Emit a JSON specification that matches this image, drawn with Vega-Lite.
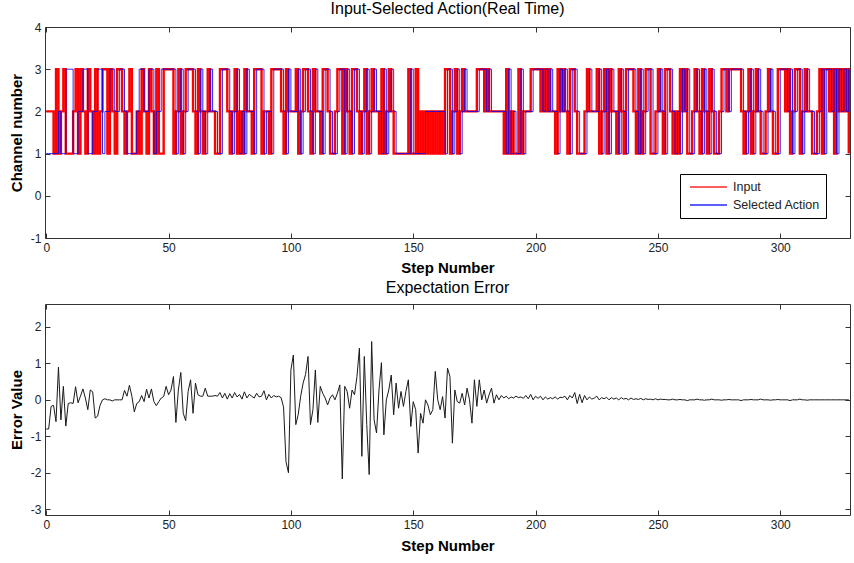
{
  "$schema": "https://vega.github.io/schema/vega-lite/v6.json",
  "autosize": {"type": "pad"},
  "padding": {"left": 8, "top": 0, "right": 1, "bottom": 3},
  "background": "white",
  "spacing": 66,
  "bounds": "flush",
  "config": {
    "font": "Liberation Sans",
    "view": {"stroke": "#333", "strokeWidth": 1},
    "axis": {"grid": false, "domain": false, "tickSize": -5, "tickColor": "#333", "labelFont": "Liberation Sans", "labelFontSize": 12, "labelColor": "#222", "labelPadding": 9, "labelExpr": "'' + datum.value", "titleFont": "Liberation Sans", "titleFontSize": 15, "titleFontWeight": "bold", "titleColor": "#000"},
    "title": {"font": "Liberation Sans", "fontSize": 16, "fontWeight": "normal", "color": "#000"}
  },
  "datasets": {
    "steps": [
{"step":0,"input":2,"action":1,"error":-0.8},
{"step":1,"input":2,"action":1,"error":-0.8},
{"step":2,"input":2,"action":1,"error":-0.18},
{"step":3,"input":1,"action":1,"error":-0.15},
{"step":4,"input":3,"action":1,"error":-0.6},
{"step":5,"input":1,"action":2,"error":0.9},
{"step":6,"input":2,"action":1,"error":-0.55},
{"step":7,"input":3,"action":1,"error":0.37},
{"step":8,"input":1,"action":3,"error":-0.72},
{"step":9,"input":1,"action":3,"error":-0.1},
{"step":10,"input":1,"action":3,"error":-0.08},
{"step":11,"input":2,"action":1,"error":-0.1},
{"step":12,"input":3,"action":1,"error":0.36},
{"step":13,"input":1,"action":2,"error":-0.08},
{"step":14,"input":3,"action":2,"error":0.1},
{"step":15,"input":2,"action":3,"error":0.3},
{"step":16,"input":1,"action":3,"error":0.05},
{"step":17,"input":3,"action":1,"error":-0.27},
{"step":18,"input":2,"action":1,"error":0.27},
{"step":19,"input":1,"action":2,"error":0.22},
{"step":20,"input":3,"action":2,"error":-0.5},
{"step":21,"input":1,"action":3,"error":-0.45},
{"step":22,"input":2,"action":3,"error":-0.15},
{"step":23,"input":3,"action":1,"error":0},
{"step":24,"input":3,"action":2,"error":0.03},
{"step":25,"input":1,"action":2,"error":0},
{"step":26,"input":3,"action":3,"error":0},
{"step":27,"input":2,"action":3,"error":-0.03},
{"step":28,"input":1,"action":2,"error":0},
{"step":29,"input":3,"action":2,"error":0},
{"step":30,"input":3,"action":3,"error":0},
{"step":31,"input":2,"action":3,"error":0},
{"step":32,"input":1,"action":2,"error":0.26},
{"step":33,"input":2,"action":1,"error":0.1},
{"step":34,"input":3,"action":1,"error":0.4},
{"step":35,"input":1,"action":1,"error":0.1},
{"step":36,"input":1,"action":1,"error":-0.33},
{"step":37,"input":2,"action":2,"error":-0.1},
{"step":38,"input":1,"action":3,"error":-0.05},
{"step":39,"input":3,"action":3,"error":0.12},
{"step":40,"input":2,"action":2,"error":-0.05},
{"step":41,"input":1,"action":2,"error":0.29},
{"step":42,"input":3,"action":3,"error":0.05},
{"step":43,"input":2,"action":3,"error":0.3},
{"step":44,"input":1,"action":1,"error":-0.05},
{"step":45,"input":3,"action":2,"error":-0.16},
{"step":46,"input":1,"action":2,"error":-0.05},
{"step":47,"input":1,"action":3,"error":0.05},
{"step":48,"input":3,"action":3,"error":0.09},
{"step":49,"input":3,"action":3,"error":0.37},
{"step":50,"input":3,"action":3,"error":0.14},
{"step":51,"input":3,"action":3,"error":0.27},
{"step":52,"input":1,"action":3,"error":0.64},
{"step":53,"input":2,"action":1,"error":-0.62},
{"step":54,"input":3,"action":2,"error":0.27},
{"step":55,"input":1,"action":3,"error":0.75},
{"step":56,"input":2,"action":1,"error":-0.37},
{"step":57,"input":3,"action":2,"error":-0.57},
{"step":58,"input":3,"action":3,"error":0.23},
{"step":59,"input":3,"action":3,"error":0.55},
{"step":60,"input":2,"action":3,"error":-0.37},
{"step":61,"input":1,"action":2,"error":0.46},
{"step":62,"input":3,"action":1,"error":0.14},
{"step":63,"input":2,"action":3,"error":0.1},
{"step":64,"input":1,"action":2,"error":0.1},
{"step":65,"input":2,"action":1,"error":0.32},
{"step":66,"input":3,"action":2,"error":0.1},
{"step":67,"input":2,"action":3,"error":0.1},
{"step":68,"input":2,"action":2,"error":0.1},
{"step":69,"input":1,"action":2,"error":0.12},
{"step":70,"input":1,"action":1,"error":0.1},
{"step":71,"input":3,"action":1,"error":0.2},
{"step":72,"input":3,"action":3,"error":0.05},
{"step":73,"input":3,"action":3,"error":0.18},
{"step":74,"input":2,"action":3,"error":0.02},
{"step":75,"input":1,"action":2,"error":0.17},
{"step":76,"input":2,"action":1,"error":0.05},
{"step":77,"input":3,"action":2,"error":0.2},
{"step":78,"input":1,"action":3,"error":0.08},
{"step":79,"input":2,"action":1,"error":0.15},
{"step":80,"input":1,"action":2,"error":0.02},
{"step":81,"input":3,"action":1,"error":0.22},
{"step":82,"input":2,"action":3,"error":0.05},
{"step":83,"input":2,"action":2,"error":0.15},
{"step":84,"input":1,"action":2,"error":0.1},
{"step":85,"input":3,"action":1,"error":0.05},
{"step":86,"input":3,"action":3,"error":0.18},
{"step":87,"input":3,"action":3,"error":0.08},
{"step":88,"input":1,"action":3,"error":0.1},
{"step":89,"input":2,"action":1,"error":0.25},
{"step":90,"input":2,"action":2,"error":0},
{"step":91,"input":1,"action":2,"error":0.15},
{"step":92,"input":3,"action":1,"error":0.05},
{"step":93,"input":3,"action":3,"error":0.12},
{"step":94,"input":3,"action":3,"error":0.08},
{"step":95,"input":3,"action":3,"error":0.1},
{"step":96,"input":2,"action":3,"error":0.06},
{"step":97,"input":1,"action":2,"error":-0.2},
{"step":98,"input":3,"action":1,"error":-1.7},
{"step":99,"input":2,"action":3,"error":-2.0},
{"step":100,"input":2,"action":2,"error":0.82},
{"step":101,"input":2,"action":2,"error":1.23},
{"step":102,"input":3,"action":2,"error":-0.68},
{"step":103,"input":1,"action":3,"error":-0.4},
{"step":104,"input":2,"action":1,"error":0.1},
{"step":105,"input":3,"action":2,"error":0.46},
{"step":106,"input":3,"action":3,"error":0.7},
{"step":107,"input":2,"action":3,"error":1.19},
{"step":108,"input":1,"action":2,"error":-0.68},
{"step":109,"input":3,"action":1,"error":-0.27},
{"step":110,"input":2,"action":3,"error":0.82},
{"step":111,"input":2,"action":2,"error":-0.62},
{"step":112,"input":1,"action":2,"error":0.37},
{"step":113,"input":3,"action":1,"error":0.18},
{"step":114,"input":3,"action":3,"error":0.05},
{"step":115,"input":2,"action":3,"error":-0.14},
{"step":116,"input":1,"action":2,"error":0.05},
{"step":117,"input":1,"action":1,"error":0.14},
{"step":118,"input":2,"action":1,"error":0},
{"step":119,"input":3,"action":2,"error":0.18},
{"step":120,"input":3,"action":3,"error":0.41},
{"step":121,"input":1,"action":3,"error":-2.17},
{"step":122,"input":3,"action":1,"error":0.37},
{"step":123,"input":2,"action":3,"error":0.23},
{"step":124,"input":1,"action":2,"error":-0.23},
{"step":125,"input":3,"action":1,"error":0.27},
{"step":126,"input":3,"action":3,"error":0.14},
{"step":127,"input":2,"action":3,"error":0.64},
{"step":128,"input":1,"action":2,"error":1.42},
{"step":129,"input":2,"action":1,"error":-1.55},
{"step":130,"input":3,"action":2,"error":1.19},
{"step":131,"input":1,"action":3,"error":-0.68},
{"step":132,"input":2,"action":1,"error":-2.05},
{"step":133,"input":3,"action":2,"error":1.6},
{"step":134,"input":2,"action":3,"error":-0.55},
{"step":135,"input":2,"action":2,"error":-0.91},
{"step":136,"input":1,"action":2,"error":0.27},
{"step":137,"input":3,"action":1,"error":1.02},
{"step":138,"input":1,"action":3,"error":-0.96},
{"step":139,"input":2,"action":1,"error":0},
{"step":140,"input":3,"action":2,"error":0.27},
{"step":141,"input":2,"action":3,"error":0.68},
{"step":142,"input":1,"action":2,"error":-0.41},
{"step":143,"input":1,"action":1,"error":0.46},
{"step":144,"input":1,"action":1,"error":-0.23},
{"step":145,"input":1,"action":1,"error":0.23},
{"step":146,"input":1,"action":1,"error":-0.18},
{"step":147,"input":1,"action":1,"error":0.23},
{"step":148,"input":3,"action":1,"error":0.55},
{"step":149,"input":1,"action":3,"error":-0.73},
{"step":150,"input":1,"action":1,"error":-0.05},
{"step":151,"input":3,"action":1,"error":-0.27},
{"step":152,"input":1,"action":1,"error":-1.46},
{"step":153,"input":2,"action":1,"error":-0.37},
{"step":154,"input":1,"action":1,"error":-0.64},
{"step":155,"input":2,"action":2,"error":0},
{"step":156,"input":1,"action":2,"error":-0.14},
{"step":157,"input":2,"action":2,"error":-0.41},
{"step":158,"input":1,"action":2,"error":-0.27},
{"step":159,"input":2,"action":2,"error":0.78},
{"step":160,"input":1,"action":2,"error":0},
{"step":161,"input":2,"action":2,"error":-0.27},
{"step":162,"input":1,"action":2,"error":0.09},
{"step":163,"input":3,"action":1,"error":-0.5},
{"step":164,"input":3,"action":3,"error":0.87},
{"step":165,"input":1,"action":3,"error":0.64},
{"step":166,"input":2,"action":1,"error":-1.19},
{"step":167,"input":3,"action":2,"error":0.27},
{"step":168,"input":1,"action":3,"error":-0.05},
{"step":169,"input":2,"action":1,"error":-0.09},
{"step":170,"input":3,"action":2,"error":0.18},
{"step":171,"input":2,"action":3,"error":-0.14},
{"step":172,"input":2,"action":2,"error":0.32},
{"step":173,"input":2,"action":2,"error":0},
{"step":174,"input":2,"action":2,"error":-0.64},
{"step":175,"input":2,"action":2,"error":0.55},
{"step":176,"input":3,"action":2,"error":-0.18},
{"step":177,"input":3,"action":3,"error":0.55},
{"step":178,"input":3,"action":3,"error":0},
{"step":179,"input":2,"action":3,"error":0.27},
{"step":180,"input":3,"action":2,"error":-0.09},
{"step":181,"input":2,"action":3,"error":0.14},
{"step":182,"input":2,"action":2,"error":0.32},
{"step":183,"input":2,"action":2,"error":-0.09},
{"step":184,"input":2,"action":2,"error":0.14},
{"step":185,"input":2,"action":2,"error":0},
{"step":186,"input":2,"action":2,"error":0.12},
{"step":187,"input":1,"action":2,"error":0.05},
{"step":188,"input":3,"action":1,"error":0.1},
{"step":189,"input":1,"action":3,"error":0.03},
{"step":190,"input":2,"action":1,"error":0.08},
{"step":191,"input":1,"action":2,"error":0.05},
{"step":192,"input":1,"action":1,"error":0.1},
{"step":193,"input":3,"action":1,"error":0.06},
{"step":194,"input":1,"action":3,"error":0.08},
{"step":195,"input":2,"action":1,"error":0.04},
{"step":196,"input":2,"action":2,"error":0.12},
{"step":197,"input":2,"action":2,"error":0.03},
{"step":198,"input":3,"action":2,"error":0.15},
{"step":199,"input":3,"action":3,"error":0},
{"step":200,"input":3,"action":3,"error":0.1},
{"step":201,"input":3,"action":3,"error":0.04},
{"step":202,"input":2,"action":3,"error":0.1},
{"step":203,"input":3,"action":2,"error":0},
{"step":204,"input":2,"action":3,"error":0.08},
{"step":205,"input":3,"action":2,"error":0.02},
{"step":206,"input":2,"action":3,"error":0.06},
{"step":207,"input":2,"action":2,"error":0.03},
{"step":208,"input":1,"action":2,"error":0.08},
{"step":209,"input":3,"action":1,"error":0.02},
{"step":210,"input":2,"action":3,"error":0.07},
{"step":211,"input":3,"action":2,"error":0.06},
{"step":212,"input":2,"action":3,"error":0.1},
{"step":213,"input":1,"action":2,"error":0},
{"step":214,"input":3,"action":1,"error":0.12},
{"step":215,"input":3,"action":3,"error":0.05},
{"step":216,"input":2,"action":3,"error":0.2},
{"step":217,"input":1,"action":2,"error":-0.1},
{"step":218,"input":1,"action":1,"error":0.15},
{"step":219,"input":1,"action":1,"error":-0.08},
{"step":220,"input":2,"action":1,"error":0.12},
{"step":221,"input":3,"action":2,"error":0},
{"step":222,"input":2,"action":3,"error":0.08},
{"step":223,"input":2,"action":2,"error":0.02},
{"step":224,"input":2,"action":2,"error":0.05},
{"step":225,"input":3,"action":2,"error":0.1},
{"step":226,"input":1,"action":3,"error":0},
{"step":227,"input":2,"action":1,"error":0.06},
{"step":228,"input":3,"action":2,"error":0.03},
{"step":229,"input":1,"action":3,"error":0.07},
{"step":230,"input":3,"action":1,"error":0},
{"step":231,"input":2,"action":3,"error":0.06},
{"step":232,"input":2,"action":2,"error":0.02},
{"step":233,"input":1,"action":2,"error":0.05},
{"step":234,"input":3,"action":1,"error":0},
{"step":235,"input":2,"action":3,"error":0.06},
{"step":236,"input":1,"action":2,"error":0.02},
{"step":237,"input":3,"action":1,"error":0.04},
{"step":238,"input":3,"action":3,"error":0},
{"step":239,"input":3,"action":3,"error":0.05},
{"step":240,"input":2,"action":3,"error":0.01},
{"step":241,"input":1,"action":2,"error":0.03},
{"step":242,"input":3,"action":1,"error":0.01},
{"step":243,"input":1,"action":3,"error":0.04},
{"step":244,"input":2,"action":1,"error":0},
{"step":245,"input":3,"action":2,"error":0.03},
{"step":246,"input":3,"action":3,"error":0.01},
{"step":247,"input":1,"action":3,"error":0.02},
{"step":248,"input":1,"action":1,"error":0},
{"step":249,"input":2,"action":1,"error":0.03},
{"step":250,"input":3,"action":2,"error":0},
{"step":251,"input":2,"action":3,"error":0.02},
{"step":252,"input":1,"action":2,"error":0.01},
{"step":253,"input":3,"action":1,"error":0.01},
{"step":254,"input":3,"action":3,"error":0},
{"step":255,"input":2,"action":3,"error":0},
{"step":256,"input":1,"action":2,"error":0.02},
{"step":257,"input":2,"action":1,"error":0},
{"step":258,"input":1,"action":2,"error":0},
{"step":259,"input":3,"action":1,"error":0.01},
{"step":260,"input":2,"action":3,"error":0},
{"step":261,"input":3,"action":2,"error":0},
{"step":262,"input":1,"action":3,"error":-0.02},
{"step":263,"input":1,"action":1,"error":0},
{"step":264,"input":2,"action":1,"error":0},
{"step":265,"input":3,"action":2,"error":0},
{"step":266,"input":2,"action":3,"error":0.02},
{"step":267,"input":1,"action":2,"error":0},
{"step":268,"input":3,"action":1,"error":0},
{"step":269,"input":2,"action":3,"error":-0.01},
{"step":270,"input":1,"action":2,"error":0},
{"step":271,"input":3,"action":1,"error":0},
{"step":272,"input":2,"action":3,"error":0.02},
{"step":273,"input":1,"action":2,"error":0},
{"step":274,"input":1,"action":1,"error":0},
{"step":275,"input":2,"action":1,"error":0},
{"step":276,"input":3,"action":2,"error":-0.01},
{"step":277,"input":3,"action":3,"error":0},
{"step":278,"input":2,"action":3,"error":0},
{"step":279,"input":3,"action":2,"error":0.01},
{"step":280,"input":3,"action":3,"error":0},
{"step":281,"input":3,"action":3,"error":0},
{"step":282,"input":3,"action":3,"error":0},
{"step":283,"input":3,"action":3,"error":0},
{"step":284,"input":2,"action":3,"error":-0.02},
{"step":285,"input":1,"action":2,"error":0},
{"step":286,"input":2,"action":1,"error":0},
{"step":287,"input":3,"action":2,"error":0},
{"step":288,"input":1,"action":3,"error":0.01},
{"step":289,"input":2,"action":1,"error":0},
{"step":290,"input":3,"action":2,"error":0},
{"step":291,"input":2,"action":3,"error":0},
{"step":292,"input":1,"action":2,"error":0.02},
{"step":293,"input":1,"action":1,"error":0},
{"step":294,"input":2,"action":1,"error":0},
{"step":295,"input":3,"action":2,"error":0},
{"step":296,"input":2,"action":3,"error":-0.01},
{"step":297,"input":1,"action":2,"error":0},
{"step":298,"input":1,"action":1,"error":0},
{"step":299,"input":3,"action":1,"error":0.01},
{"step":300,"input":3,"action":3,"error":0},
{"step":301,"input":3,"action":3,"error":0},
{"step":302,"input":2,"action":3,"error":0},
{"step":303,"input":3,"action":2,"error":0},
{"step":304,"input":1,"action":3,"error":-0.02},
{"step":305,"input":2,"action":1,"error":0},
{"step":306,"input":3,"action":2,"error":0},
{"step":307,"input":3,"action":3,"error":0},
{"step":308,"input":1,"action":3,"error":0.02},
{"step":309,"input":2,"action":1,"error":0},
{"step":310,"input":3,"action":2,"error":0},
{"step":311,"input":2,"action":3,"error":-0.01},
{"step":312,"input":2,"action":2,"error":0},
{"step":313,"input":1,"action":2,"error":0},
{"step":314,"input":1,"action":1,"error":0},
{"step":315,"input":2,"action":1,"error":0},
{"step":316,"input":3,"action":2,"error":0},
{"step":317,"input":1,"action":3,"error":0},
{"step":318,"input":3,"action":1,"error":0},
{"step":319,"input":3,"action":3,"error":0},
{"step":320,"input":2,"action":3,"error":0},
{"step":321,"input":3,"action":2,"error":0},
{"step":322,"input":1,"action":3,"error":0},
{"step":323,"input":3,"action":1,"error":0},
{"step":324,"input":2,"action":3,"error":0},
{"step":325,"input":3,"action":2,"error":0},
{"step":326,"input":2,"action":3,"error":0},
{"step":327,"input":3,"action":2,"error":0},
{"step":328,"input":1,"action":3,"error":0}
    ]
  },
  "vconcat": [
    {
      "width": 805,
      "height": 211,
      "title": {"text": "Input-Selected Action(Real Time)", "offset": 4},
      "data": {"name": "steps"},
      "resolve": {"axis": {"x": "independent", "y": "independent"}},
      "layer": [
        {
          "mark": {"type": "line", "interpolate": "step-after", "strokeWidth": 2.4, "clip": true},
          "encoding": {
            "x": {"field": "step", "type": "quantitative", "scale": {"domain": [-0.5, 328.5], "nice": false, "zero": false}, "axis": {"title": "Step Number", "values": [0, 50, 100, 150, 200, 250, 300], "titlePadding": 7}},
            "y": {"field": "input", "type": "quantitative", "scale": {"domain": [-1, 4], "nice": false}, "axis": {"title": "Channel number", "values": [-1, 0, 1, 2, 3, 4], "titlePadding": 6}},
            "color": {"datum": "Input", "type": "nominal", "scale": {"domain": ["Input", "Selected Action"], "range": ["#ff0000", "#0000ff"]},
              "legend": {"orient": "none", "legendX": 635, "legendY": 147, "title": null, "strokeColor": "#000", "fillColor": "#fff", "padding": 6, "symbolType": "stroke", "symbolSize": 1369, "symbolStrokeWidth": 1.6, "symbolOffset": 3, "labelFontSize": 12.5, "labelFont": "Liberation Sans", "labelColor": "#222", "clipHeight": 14, "rowPadding": 4, "labelOffset": 5}}
          }
        },
        {
          "mark": {"type": "line", "interpolate": "step-after", "strokeWidth": 1, "opacity": 0.85, "clip": true},
          "encoding": {
            "x": {"field": "step", "type": "quantitative", "axis": {"orient": "top", "labels": false, "title": null, "values": [0, 50, 100, 150, 200, 250, 300]}},
            "y": {"field": "action", "type": "quantitative", "axis": {"orient": "right", "labels": false, "title": null, "values": [-1, 0, 1, 2, 3, 4]}},
            "color": {"datum": "Selected Action", "type": "nominal"}
          }
        }
      ]
    },
    {
      "width": 805,
      "height": 211,
      "title": {"text": "Expectation Error", "offset": 8},
      "data": {"name": "steps"},
      "resolve": {"axis": {"x": "independent", "y": "independent"}},
      "layer": [
        {
          "mark": {"type": "line", "strokeWidth": 1, "color": "#1a1a1a", "clip": true},
          "encoding": {
            "x": {"field": "step", "type": "quantitative", "scale": {"domain": [-0.5, 328.5], "nice": false, "zero": false}, "axis": {"title": "Step Number", "values": [0, 50, 100, 150, 200, 250, 300], "titlePadding": 8}},
            "y": {"field": "error", "type": "quantitative", "scale": {"domain": [-3.16, 2.63], "nice": false, "zero": false}, "axis": {"title": "Error Value", "values": [-3, -2, -1, 0, 1, 2], "titlePadding": 6}}
          }
        },
        {
          "mark": {"type": "line", "strokeWidth": 0, "opacity": 0},
          "encoding": {
            "x": {"field": "step", "type": "quantitative", "axis": {"orient": "top", "labels": false, "title": null, "values": [0, 50, 100, 150, 200, 250, 300]}},
            "y": {"field": "error", "type": "quantitative", "axis": {"orient": "right", "labels": false, "title": null, "values": [-3, -2, -1, 0, 1, 2]}}
          }
        }
      ]
    }
  ]
}
